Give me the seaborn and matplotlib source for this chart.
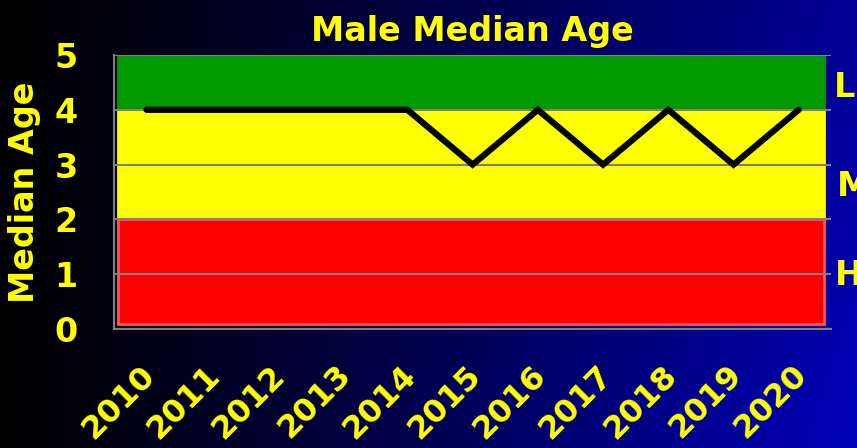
import numpy as np
import pandas as pd
import seaborn as sns
import matplotlib.pyplot as plt
from matplotlib.patches import Rectangle
from matplotlib.transforms import ScaledTranslation

# Data
years = ['2010', '2011', '2012', '2013', '2014', '2015', '2016', '2017', '2018', '2019', '2020']
median_age = [4, 4, 4, 4, 4, 3, 4, 3, 4, 3, 4]
band_names = ['L', 'M', 'H']
band_low = [4, 2, 0]
band_high = [5, 4, 2]
band_colors = ['#009900', '#ffff00', '#ff0000']

df = pd.DataFrame({'pos': np.arange(len(years)), 'age': median_age})

sns.set_style('white')
plt.rcParams['font.family'] = ['DejaVu Sans']
yellow = '#ffff00'
grey = '#808080'

fig = plt.figure(figsize=(8.57, 4.48), dpi=100)

# gradient background (black -> blue)
bg = fig.add_axes([0, 0, 1, 1], zorder=-10)
gx, gy = np.meshgrid(np.linspace(0, 1, 300), np.linspace(0, 1, 150))
blue = gx ** 1.15 * (150 + 35 * gy) / 255.0
img = np.dstack([np.zeros_like(blue), np.zeros_like(blue), blue])
bg.imshow(img, aspect='auto', extent=[0, 1, 0, 1], origin='upper')
bg.axis('off')

ax = fig.add_axes([0.133, 0.2656, 0.837, 0.6116])
ax.set_facecolor('none')

# risk bands
for lo, hi, c in zip(band_low, band_high, band_colors):
    top = hi + 0.05 if hi == 5 else hi
    bot = lo + 0.1 if lo == 0 else lo
    ec = '#ff5555' if c == '#ff0000' else c
    ax.add_patch(Rectangle((-0.44, bot), 10.83, top - bot, facecolor=c,
                           edgecolor=ec, linewidth=2, zorder=1))

for yv in range(6):
    ax.axhline(yv, color=grey, linewidth=1.5, zorder=2)

sns.lineplot(data=df, x='pos', y='age', color='black', linewidth=4.5,
             solid_capstyle='round', solid_joinstyle='miter', ax=ax, zorder=3)

ax.set_xlim(-0.5, len(years) - 0.5)
ax.set_ylim(0, 5)
ax.set_yticks(range(6))
ax.set_yticklabels([str(v) for v in range(6)], color=yellow, fontsize=24,
                   fontweight='bold')
ax.set_xticks(np.arange(len(years)))
ax.set_xticklabels(years, rotation=45, ha='right', rotation_mode='anchor',
                   color=yellow, fontsize=23, fontweight='bold')
ax.set_xticks(np.arange(-0.5, len(years)), minor=True)
ax.tick_params(axis='x', which='major', length=0, pad=22)
ax.tick_params(axis='x', which='minor', length=7, width=1.5, color=grey)
ax.tick_params(axis='y', length=9, width=1.5, color=grey, pad=17)

# nudge rotated year labels slightly left
shift = ScaledTranslation(-7 / 100, 0, fig.dpi_scale_trans)
for lbl in ax.get_xticklabels():
    lbl.set_transform(lbl.get_transform() + shift)

for s in ['top', 'right']:
    ax.spines[s].set_visible(False)
for s in ['left', 'bottom']:
    ax.spines[s].set_color(grey)
    ax.spines[s].set_linewidth(1.5)

ax.set_xlabel('')
ax.set_ylabel('Median Age', color=yellow, fontsize=24, fontweight='bold',
              labelpad=10)
ax.set_title('Male Median Age', color=yellow, fontsize=24, fontweight='bold',
             pad=10)

label_y = [4.4, 2.6, 0.97]
label_x = [1.003, 1.008, 1.005]
for name, xv, yv in zip(band_names, label_x, label_y):
    ax.text(xv, yv, name, transform=ax.get_yaxis_transform(), color=yellow,
            fontsize=24, fontweight='bold', va='center', ha='left', clip_on=False)

fig.savefig('out.png', dpi=100)
